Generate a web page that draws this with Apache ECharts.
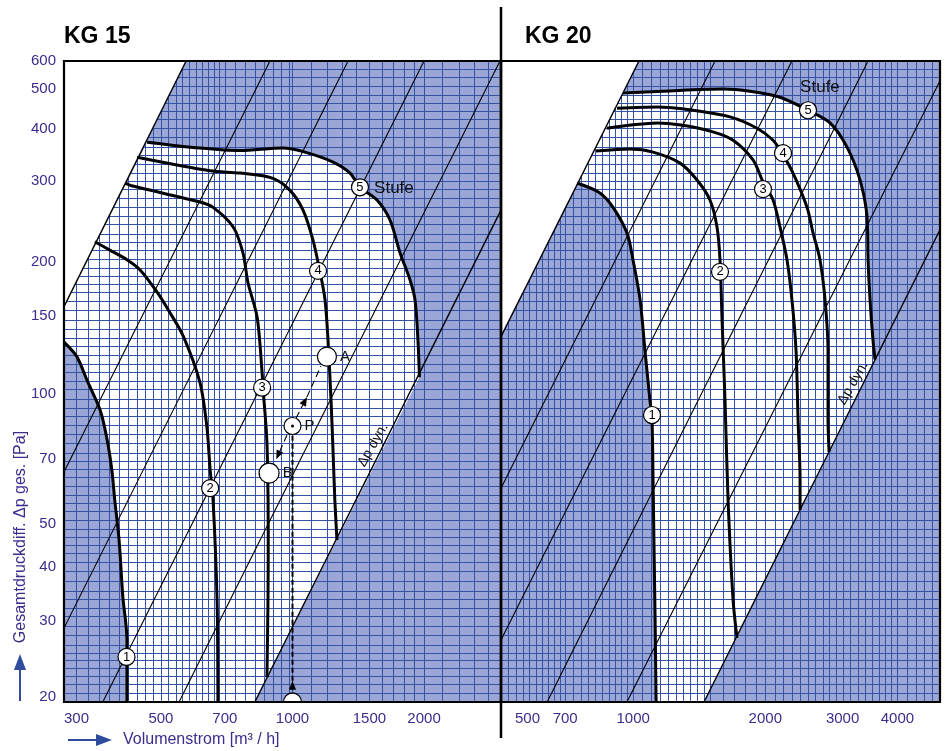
<!DOCTYPE html>
<html>
<head>
<meta charset="utf-8">
<title>KG 15 / KG 20 Kennlinien</title>
<script src="https://cdn.jsdelivr.net/npm/echarts@6.0.0/dist/echarts.min.js"></script>
<style>
  html, body { margin: 0; padding: 0; background: #fff; }
  #chart { width: 946px; height: 751px; }
</style>
</head>
<body>
<div id="chart"></div>
<script>
// ---- axis ranges ----
const flowRange15 = [300, 3000];
const flowRange20 = [500, 5000];
const pressureRange = [20, 600];

// ---- tick labels ----
const pressureTicks = [20, 30, 40, 50, 70, 100, 150, 200, 300, 400, 500, 600];
const flowTicks15 = [300, 500, 700, 1000, 1500, 2000];
const flowTicks20 = [500, 700, 1000, 2000, 3000, 4000];

// ---- paper rulings: [from, to, step] for flow, explicit list for pressure ----
const paperFlow15 = [[300, 700, 20], [700, 1000, 40], [1000, 2000, 100], [2000, 3000, 200]];
const paperFlow20 = [[500, 700, 20], [700, 1000, 30], [1000, 1500, 50], [1500, 3000, 100], [3000, 4000, 125], [4000, 5000, 200]];
const paperPressure = [20, 21, 22, 23, 24, 25, 26, 27, 28.5, 30, 31.5, 33, 34.5, 36, 38, 40, 42, 44, 46, 48,
  50, 52.5, 55, 57.5, 60, 63, 66, 69, 72, 75, 79, 83, 87, 91, 95, 100, 105, 110, 115, 120, 126, 132, 138,
  145, 152, 160, 168, 176, 184, 192, 200, 210, 220, 230, 240, 252, 264, 276, 290, 304, 318, 332, 348, 364,
  380, 400, 420, 440, 460, 480, 500, 525, 550, 575, 600];

// ---- KG 15 fan curves [m³/h, Pa] ----
const kg15Stufe1 = [[300, 135], [321, 125], [339, 110], [363, 94], [376, 81], [386, 68.5], [392, 58.4], [401, 47.2], [409, 35], [418, 27.8], [418, 20]];
const kg15Stufe2 = [[353, 230], [382, 220], [418, 209], [448, 198], [490, 176], [524, 158], [563, 139], [614, 109], [637, 86], [648, 68.5], [658, 58.4], [672, 34.4], [675, 20]];
const kg15Stufe3 = [[414, 314], [431, 309], [614, 284], [658, 276], [731, 249], [770, 217], [791, 185], [830, 154], [852, 115], [856, 106], [872, 83], [877, 69.6], [880, 50], [879, 35], [874, 22.8]];
const kg15Stufe4 = [[441, 360], [648, 335], [758, 331], [902, 322], [987, 302], [1057, 272], [1114, 232], [1156, 196], [1187, 169], [1206, 136], [1225, 99.3], [1238, 76.1], [1250, 58.4], [1264, 47.2]];
const kg15Stufe5 = [[465, 390], [614, 378], [758, 373], [951, 378], [1068, 370], [1238, 351], [1354, 331], [1427, 307], [1561, 287], [1672, 258], [1762, 217], [1857, 188], [1907, 169], [1937, 136], [1952, 112]];

// ---- KG 20 fan curves [m³/h, Pa] ----
const kg20Stufe1 = [[745, 314], [840, 298], [900, 276], [968, 241], [999, 209], [1037, 169], [1064, 129], [1092, 99.3], [1104, 89.3], [1110, 65], [1116, 44.8], [1122, 30.9], [1128, 20]];
const kg20Stufe2 = [[823, 372], [984, 376], [1110, 370], [1279, 349], [1398, 319], [1496, 287], [1552, 249], [1577, 209], [1594, 152], [1619, 99.3], [1645, 58.4], [1689, 34.4], [1724, 28.1]];
const kg20Stufe3 = [[872, 420], [989, 427], [1134, 432], [1285, 427], [1520, 412], [1689, 394], [1875, 355], [1976, 316], [2083, 287], [2160, 249], [2241, 209], [2300, 169], [2350, 129], [2375, 89.3], [2400, 65], [2400, 55.4]];
const kg20Stufe4 = [[919, 467], [1134, 470], [1369, 462], [1662, 446], [1915, 420], [2083, 394], [2183, 368], [2313, 331], [2489, 276], [2569, 241], [2664, 209], [2736, 169], [2779, 129], [2779, 89.3], [2795, 75.3]];
const kg20Stufe5 = [[948, 506], [1170, 511], [1602, 517], [1846, 511], [2160, 495], [2502, 462], [2808, 432], [3070, 380], [3287, 319], [3410, 262], [3428, 209], [3464, 169], [3519, 136], [3556, 123]];

// ---- system curves (Δp ~ V²) as end points [V1, p1, V2, p2]; first one bounds the field ----
const kg15Anlage = [[571, 600, 300, 163], [888, 600, 300, 67.8], [1340, 600, 300, 29.6], [2000, 600, 368, 20], [2984, 600, 550, 20]];
const kg20Anlage = [[1031, 600, 500, 139], [1537, 600, 500, 62.2], [2300, 600, 500, 27.8], [3428, 600, 637, 20], [968, 20, 5000, 540]];
// dynamic pressure limit
const kg15Dyn = [[820, 20], [3000, 272]];
const kg20Dyn = [[1450, 20], [5000, 245]];

// ---- stage markers ----
const kg15Marken = [{ name: '1', value: [417, 25.4] }, { name: '2', value: [648, 62.2] }, { name: '3', value: [852, 106] }, { name: '4', value: [1144, 197] }, { name: '5', value: [1427, 307] }];
const kg20Marken = [{ name: '1', value: [1104, 91.7] }, { name: '2', value: [1577, 196] }, { name: '3', value: [1976, 304] }, { name: '4', value: [2195, 368] }, { name: '5', value: [2502, 462] }];

// ---- example operating points ----
const punktA = [1199, 125];
const punktP = [1000, 86.5];
const punktB = [884, 67.4];
// dashed guides [V1, p1, V2, p2, arrowhead at end]
const fuehrungen = [[1019, 90.2, 1079, 100.9, 1], [1079, 100.9, 1162, 118.9, 0], [971, 82.4, 918, 72.5, 1]];
const messlinie = [[1000, 21.3, 1000, 22.4, 1], [1000, 22.4, 1000, 82.8, 0]];

const INK = '#3b2c8d';
const SHADE = '#9aa6d6';
const RULE = '#3553a5';
const ARROW = '#2f4c9f';
const FONT = '"Liberation Sans", Arial, Helvetica, sans-serif';

// upward nudge (px) of each pressure label relative to its tick
const pressureLabelLift = { 600: 0, 500: 7, 400: 9, 300: 11, 200: 6, 150: 6, 100: 5, 70: 7, 50: 5, 40: 5, 30: 5, 20: 5 };

function expand(ranges) {
  const out = [];
  ranges.forEach(([a, b, s]) => { for (let v = a; v < b - 1e-9; v += s) out.push(v); });
  out.push(ranges[ranges.length - 1][1]);
  return out;
}

function polygon(gi, pts, fill, z) {
  return {
    type: 'custom', xAxisIndex: gi, yAxisIndex: gi, z, silent: true, clip: true,
    data: [pts[0]],
    renderItem: (params, api) => ({ type: 'polygon', shape: { points: pts.map(p => api.coord(p)) }, style: { fill } })
  };
}

function ruling(gi, flows, range) {
  return {
    type: 'custom', xAxisIndex: gi, yAxisIndex: gi, z: 3, silent: true, clip: true,
    data: [[range[0], pressureRange[0]]],
    renderItem: (params, api) => {
      const children = [];
      flows.forEach(v => {
        const a = api.coord([v, pressureRange[0]]), b = api.coord([v, pressureRange[1]]);
        const x = Math.round(a[0]) + 0.5;
        children.push({ type: 'line', shape: { x1: x, y1: a[1], x2: x, y2: b[1] }, style: { stroke: RULE, lineWidth: 1 } });
      });
      paperPressure.forEach(v => {
        const a = api.coord([range[0], v]), b = api.coord([range[1], v]);
        const y = Math.round(a[1]) + 0.5;
        children.push({ type: 'line', shape: { x1: a[0], y1: y, x2: b[0], y2: y }, style: { stroke: RULE, lineWidth: 1 } });
      });
      return { type: 'group', children };
    }
  };
}

function segments(gi, list, width, z) {
  return {
    type: 'custom', xAxisIndex: gi, yAxisIndex: gi, z, silent: true, clip: true,
    data: list,
    renderItem: (params, api) => {
      const a = api.coord([api.value(0), api.value(1)]), b = api.coord([api.value(2), api.value(3)]);
      const w = params.dataIndex === 0 ? width + 0.3 : width;
      return { type: 'line', shape: { x1: a[0], y1: a[1], x2: b[0], y2: b[1] }, style: { stroke: '#000', lineWidth: w } };
    }
  };
}

function arrows(gi, list, width, dash, z) {
  return {
    type: 'custom', xAxisIndex: gi, yAxisIndex: gi, z, silent: true, clip: true,
    data: list,
    renderItem: (params, api) => {
      const a = api.coord([api.value(0), api.value(1)]), b = api.coord([api.value(2), api.value(3)]);
      const children = [];
      if (api.value(4)) {
        const dx = b[0] - a[0], dy = b[1] - a[1], len = Math.hypot(dx, dy) || 1;
        const ux = dx / len, uy = dy / len, L = 9, H = 3.6;
        const bx = b[0] - ux * L, by = b[1] - uy * L;
        children.push({ type: 'polygon', shape: { points: [[b[0], b[1]], [bx - uy * H, by + ux * H], [bx + uy * H, by - ux * H]] }, style: { fill: '#000' } });
        children.push({ type: 'line', shape: { x1: a[0], y1: a[1], x2: bx, y2: by }, style: { stroke: '#000', lineWidth: width, lineDash: dash } });
      } else {
        children.push({ type: 'line', shape: { x1: a[0], y1: a[1], x2: b[0], y2: b[1] }, style: { stroke: '#000', lineWidth: width, lineDash: dash } });
      }
      return { type: 'group', children };
    }
  };
}

function texts(gi, list, z) {
  // list: [V, p, text, fontSize, align, rotationDeg]
  return {
    type: 'custom', xAxisIndex: gi, yAxisIndex: gi, z, silent: true, clip: false,
    data: list.map(t => [t[0], t[1]]),
    renderItem: (params, api) => {
      const t = list[params.dataIndex];
      const p = api.coord([t[0], t[1]]);
      return {
        type: 'text', x: p[0], y: p[1], rotation: (t[5] || 0) * Math.PI / 180,
        style: { text: t[2], font: t[3] + 'px ' + FONT, fill: '#111', align: t[4], verticalAlign: 'middle' }
      };
    }
  };
}

function curve(gi, data) {
  return {
    type: 'line', xAxisIndex: gi, yAxisIndex: gi, data, showSymbol: false, symbol: 'none', smooth: 0.3,
    lineStyle: { color: '#000', width: 3 }, z: 6, silent: true
  };
}

function markers(gi, data) {
  return {
    type: 'scatter', xAxisIndex: gi, yAxisIndex: gi, data, symbol: 'circle', symbolSize: 17, z: 8, silent: true,
    itemStyle: { color: '#fff', borderColor: '#000', borderWidth: 1.2, opacity: 1 },
    label: { show: true, position: 'inside', formatter: '{b}', color: '#000', fontSize: 13, fontFamily: FONT }
  };
}

function frame(gi, range) {
  return {
    type: 'custom', xAxisIndex: gi, yAxisIndex: gi, z: 20, silent: true, clip: false,
    data: [[range[0], pressureRange[0]]],
    renderItem: (params, api) => {
      const a = api.coord([range[0], pressureRange[0]]), b = api.coord([range[1], pressureRange[1]]);
      return { type: 'rect', shape: { x: a[0], y: b[1], width: b[0] - a[0], height: a[1] - b[1] }, style: { fill: 'none', stroke: '#000', lineWidth: 2.2 } };
    }
  };
}

// operating fields (white) bounded by stage 1, stage 5, the limit line and the dynamic-pressure line
const kg15Feld = [kg15Stufe5[0], [kg15Anlage[0][2], kg15Anlage[0][3]], ...kg15Stufe1, kg15Dyn[0], ...kg15Stufe5.slice().reverse()];
const kg20Feld = [kg20Stufe5[0], ...kg20Stufe1, kg20Dyn[0], ...kg20Stufe5.slice().reverse()];
// unruled corner above the limit line
const kg15Leer = [[flowRange15[0], pressureRange[1]], [kg15Anlage[0][0], kg15Anlage[0][1]], [kg15Anlage[0][2], kg15Anlage[0][3]]];
const kg20Leer = [[flowRange20[0], pressureRange[1]], [kg20Anlage[0][0], kg20Anlage[0][1]], [kg20Anlage[0][2], kg20Anlage[0][3]]];

const chart = echarts.init(document.getElementById('chart'), null, { renderer: 'canvas' });

const axisLabelBase = { color: INK, fontSize: 15, fontFamily: FONT };

const liftRich = {};
Object.keys(pressureLabelLift).forEach(k => {
  liftRich['l' + k] = { color: INK, fontSize: 15, fontFamily: FONT, padding: [0, 0, 2 * pressureLabelLift[k], 0] };
});

const option = {
  animation: false,
  backgroundColor: '#fff',
  grid: [
    { left: 64, top: 61, width: 437, height: 641, show: true, backgroundColor: SHADE, borderWidth: 0 },
    { left: 501, top: 61, width: 439, height: 641, show: true, backgroundColor: SHADE, borderWidth: 0 }
  ],
  xAxis: [
    {
      type: 'log', gridIndex: 0, min: flowRange15[0], max: flowRange15[1], logBase: 10,
      axisLine: { show: false }, axisTick: { show: false }, splitLine: { show: false },
      axisLabel: Object.assign({}, axisLabelBase, { customValues: flowTicks15, formatter: v => String(Math.round(v)), margin: 9, alignMinLabel: 'left', showMinLabel: true })
    },
    {
      type: 'log', gridIndex: 1, min: flowRange20[0], max: flowRange20[1], logBase: 10,
      axisLine: { show: false }, axisTick: { show: false }, splitLine: { show: false },
      axisLabel: Object.assign({}, axisLabelBase, {
        customValues: flowTicks20, margin: 9, alignMinLabel: 'left', showMinLabel: true,
        formatter: v => Math.round(v) === flowRange20[0] ? '{pad|' + Math.round(v) + '}' : String(Math.round(v)),
        rich: { pad: { color: INK, fontSize: 15, fontFamily: FONT, padding: [0, 0, 0, 14] } }
      })
    }
  ],
  yAxis: [
    {
      type: 'log', gridIndex: 0, min: pressureRange[0], max: pressureRange[1], logBase: 10,
      axisLine: { show: false }, axisTick: { show: false }, splitLine: { show: false },
      axisLabel: Object.assign({}, axisLabelBase, {
        customValues: pressureTicks, margin: 8, showMinLabel: true, showMaxLabel: true,
        formatter: v => '{l' + Math.round(v) + '|' + Math.round(v) + '}',
        rich: liftRich
      })
    },
    {
      type: 'log', gridIndex: 1, min: pressureRange[0], max: pressureRange[1], logBase: 10,
      axisLine: { show: false }, axisTick: { show: false }, splitLine: { show: false }, axisLabel: { show: false }
    }
  ],
  graphic: [
    { type: 'text', x: 64, y: 37, style: { text: 'KG 15', font: 'bold 23px ' + FONT, fill: '#000', verticalAlign: 'middle' } },
    { type: 'text', x: 525, y: 37, style: { text: 'KG 20', font: 'bold 23px ' + FONT, fill: '#000', verticalAlign: 'middle' } },
    { type: 'line', z: 100, shape: { x1: 501, y1: 7, x2: 501, y2: 738 }, style: { stroke: '#000', lineWidth: 2.5 } },
    { type: 'text', x: 21, y: 537, rotation: Math.PI / 2, style: { text: 'Gesamtdruckdiff. Δp ges. [Pa]', font: '16px ' + FONT, fill: INK, align: 'center', verticalAlign: 'middle' } },
    { type: 'line', shape: { x1: 20, y1: 701, x2: 20, y2: 668 }, style: { stroke: ARROW, lineWidth: 2 } },
    { type: 'polygon', shape: { points: [[20, 654], [14, 670], [26, 670]] }, style: { fill: ARROW } },
    { type: 'line', shape: { x1: 68, y1: 740, x2: 98, y2: 740 }, style: { stroke: ARROW, lineWidth: 2 } },
    { type: 'polygon', shape: { points: [[112, 740], [96, 734], [96, 746]] }, style: { fill: ARROW } },
    { type: 'text', x: 123, y: 740, style: { text: 'Volumenstrom [m³ / h]', font: '16px ' + FONT, fill: INK, verticalAlign: 'middle' } }
  ],
  series: [
    // KG 15
    polygon(0, kg15Feld, '#fff', 2),
    ruling(0, expand(paperFlow15), flowRange15),
    polygon(0, kg15Leer, '#fff', 4),
    segments(0, kg15Anlage, 1.1, 5),
    segments(0, [[kg15Dyn[0][0], kg15Dyn[0][1], kg15Dyn[1][0], kg15Dyn[1][1]]], 1.1, 5),
    curve(0, kg15Stufe1), curve(0, kg15Stufe2), curve(0, kg15Stufe3), curve(0, kg15Stufe4), curve(0, kg15Stufe5),
    arrows(0, fuehrungen, 1.1, [7, 4], 7),
    arrows(0, messlinie, 2, [5, 3], 7),
    {
      type: 'custom', xAxisIndex: 0, yAxisIndex: 0, z: 8, silent: true, clip: true, data: [[punktP[0], pressureRange[0]]],
      renderItem: (params, api) => {
        const c = api.coord([api.value(0), api.value(1)]);
        return { type: 'circle', shape: { cx: c[0], cy: c[1], r: 9 }, style: { fill: '#fff', stroke: '#000', lineWidth: 1.3 } };
      }
    },
    markers(0, kg15Marken),
    {
      type: 'scatter', xAxisIndex: 0, yAxisIndex: 0, z: 8, silent: true, symbol: 'circle',
      data: [{ name: 'A', value: punktA, symbolSize: 19 }, { name: 'P', value: punktP, symbolSize: 17 }, { name: 'B', value: punktB, symbolSize: 20 }],
      itemStyle: { color: '#fff', borderColor: '#000', borderWidth: 1.2, opacity: 1 },
      label: { show: true, position: 'right', distance: 3, formatter: '{b}', color: '#111', fontSize: 15, fontFamily: FONT }
    },
    { type: 'scatter', xAxisIndex: 0, yAxisIndex: 0, z: 9, silent: true, symbol: 'circle', symbolSize: 3, data: [punktP], itemStyle: { color: '#000', opacity: 1 } },
    texts(0, [[1537, 306, 'Stufe', 17, 'left'], [1528, 78.2, 'Δp dyn.', 14, 'center', 60]], 9),
    frame(0, flowRange15),

    // KG 20
    polygon(1, kg20Feld, '#fff', 2),
    ruling(1, expand(paperFlow20), flowRange20),
    polygon(1, kg20Leer, '#fff', 4),
    segments(1, kg20Anlage, 1.1, 5),
    segments(1, [[kg20Dyn[0][0], kg20Dyn[0][1], kg20Dyn[1][0], kg20Dyn[1][1]]], 1.1, 5),
    curve(1, kg20Stufe1), curve(1, kg20Stufe2), curve(1, kg20Stufe3), curve(1, kg20Stufe4), curve(1, kg20Stufe5),
    markers(1, kg20Marken),
    texts(1, [[2664, 522, 'Stufe', 17, 'center'], [3169, 108.7, 'Δp dyn.', 14, 'center', 60]], 9),
    frame(1, flowRange20)
  ]
};

chart.setOption(option);
</script>
</body>
</html>
